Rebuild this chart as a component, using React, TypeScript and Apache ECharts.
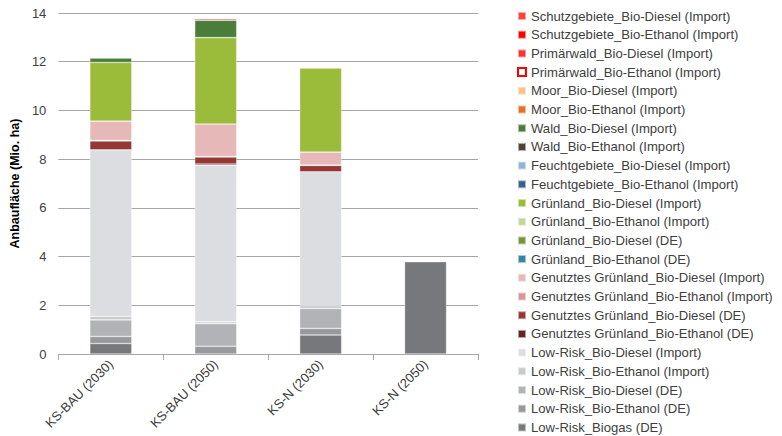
import React, { useEffect, useRef } from "react";
import * as echarts from "echarts";

const categories = ["KS-BAU (2030)", "KS-BAU (2050)", "KS-N (2030)", "KS-N (2050)"];

// Stacking order: bottom -> top
const seriesNames = [
  "Low-Risk_Biogas (DE)",
  "Low-Risk_Bio-Ethanol (DE)",
  "Low-Risk_Bio-Diesel (DE)",
  "Low-Risk_Bio-Ethanol (Import)",
  "Low-Risk_Bio-Diesel (Import)",
  "Genutztes Grünland_Bio-Ethanol (DE)",
  "Genutztes Grünland_Bio-Diesel (DE)",
  "Genutztes Grünland_Bio-Ethanol (Import)",
  "Genutztes Grünland_Bio-Diesel (Import)",
  "Grünland_Bio-Ethanol (DE)",
  "Grünland_Bio-Diesel (DE)",
  "Grünland_Bio-Ethanol (Import)",
  "Grünland_Bio-Diesel (Import)",
  "Feuchtgebiete_Bio-Ethanol (Import)",
  "Feuchtgebiete_Bio-Diesel (Import)",
  "Wald_Bio-Ethanol (Import)",
  "Wald_Bio-Diesel (Import)",
  "Moor_Bio-Ethanol (Import)",
  "Moor_Bio-Diesel (Import)",
  "Primärwald_Bio-Ethanol (Import)",
  "Primärwald_Bio-Diesel (Import)",
  "Schutzgebiete_Bio-Ethanol (Import)",
  "Schutzgebiete_Bio-Diesel (Import)",
];

const seriesColors = [
  "#77787b",
  "#98999c",
  "#b2b3b6",
  "#c8c9cc",
  "#dcdde0",
  "#632523",
  "#953735",
  "#d99694",
  "#e6b9b8",
  "#31859c",
  "#77933c",
  "#c3d69b",
  "#9bbb3b",
  "#376092",
  "#95b3d7",
  "#4e4632",
  "#4a7d3a",
  "#e86f25",
  "#f9c08f",
  "#ffffff",
  "#ff3030",
  "#ff0000",
  "#ff4040",
];

// values per series (same order as seriesNames), per category
const lowRiskBiogasDE = [0.43, 0.0, 0.78, 3.79];
const lowRiskEthanolDE = [0.29, 0.32, 0.27, 0];
const lowRiskDieselDE = [0.68, 0.92, 0.82, 0];
const lowRiskEthanolImport = [0.14, 0.08, 0.11, 0];
const lowRiskDieselImport = [6.84, 6.43, 5.5, 0];
const genGrEthanolDE = [0.0, 0.05, 0.0, 0];
const genGrDieselDE = [0.37, 0.29, 0.26, 0];
const genGrEthanolImport = [0.02, 0.02, 0.02, 0];
const genGrDieselImport = [0.79, 1.33, 0.53, 0];
const grEthanolDE = [0, 0, 0, 0];
const grDieselDE = [0, 0, 0, 0];
const grEthanolImport = [0, 0, 0, 0];
const grDieselImport = [2.41, 3.55, 3.45, 0];
const feuchtEthanol = [0, 0, 0, 0];
const feuchtDiesel = [0, 0, 0, 0];
const waldEthanol = [0, 0, 0, 0];
const waldDiesel = [0.18, 0.71, 0, 0];
const moorEthanol = [0, 0, 0, 0];
const moorDiesel = [0, 0, 0, 0];
const primEthanol = [0, 0, 0, 0];
const primDiesel = [0, 0, 0, 0];
const schutzEthanol = [0, 0, 0, 0];
const schutzDiesel = [0.02, 0.06, 0.02, 0];

const seriesValues = [
  lowRiskBiogasDE,
  lowRiskEthanolDE,
  lowRiskDieselDE,
  lowRiskEthanolImport,
  lowRiskDieselImport,
  genGrEthanolDE,
  genGrDieselDE,
  genGrEthanolImport,
  genGrDieselImport,
  grEthanolDE,
  grDieselDE,
  grEthanolImport,
  grDieselImport,
  feuchtEthanol,
  feuchtDiesel,
  waldEthanol,
  waldDiesel,
  moorEthanol,
  moorDiesel,
  primEthanol,
  primDiesel,
  schutzEthanol,
  schutzDiesel,
];

const yTicks = [0, 2, 4, 6, 8, 10, 12, 14];

const FONT = "'Liberation Sans', Arial, sans-serif";

export default function App() {
  const ref = useRef<HTMLDivElement>(null);
  useEffect(() => {
    if (!ref.current) return;
    const chart = echarts.init(ref.current, null, { renderer: "svg" });
    const series = seriesNames.map((name, i) => {
      const isPrimEth = name === "Primärwald_Bio-Ethanol (Import)";
      return {
        name,
        type: "bar",
        stack: "total",
        barWidth: "40%",
        data: seriesValues[i].map((v) => (v === 0 ? null : v)),
        itemStyle: {
          color: seriesColors[i],
          borderColor: isPrimEth ? "#ff0000" : "rgba(255,255,255,0.55)",
          borderWidth: isPrimEth ? 1 : 0.6,
        },
        emphasis: { disabled: true },
      };
    });
    chart.setOption({
      animation: false,
      backgroundColor: "#ffffff",
      textStyle: { fontFamily: FONT },
      grid: { left: 53, right: 304, top: 13, bottom: 82, containLabel: false },
      legend: {
        orient: "vertical",
        left: 517,
        top: 9,
        height: 427,
        padding: 0,
        itemWidth: 8,
        itemHeight: 8,
        itemGap: 4.7,
        icon: "rect",
        data: [...seriesNames].reverse(),
        selectedMode: false,
        textStyle: {
          fontFamily: FONT,
          fontSize: 13.1,
          color: "#404040",
          lineHeight: 14,
        },
      },
      xAxis: {
        type: "category",
        data: categories,
        axisLine: { lineStyle: { color: "#a6a6a6", width: 1 } },
        axisTick: { show: true, alignWithLabel: false, length: 6, lineStyle: { color: "#a6a6a6" } },
        axisLabel: {
          rotate: 45,
          fontSize: 13,
          color: "#404040",
          fontFamily: FONT,
          margin: 8,
        },
      },
      yAxis: {
        type: "value",
        min: 0,
        max: 14,
        interval: 2,
        name: "Anbaufläche (Mio. ha)",
        nameLocation: "middle",
        nameGap: 34,
        nameTextStyle: { fontSize: 12.5, fontWeight: "bold", color: "#000000", fontFamily: FONT },
        axisLine: { show: false },
        axisTick: { show: false },
        splitLine: { lineStyle: { color: "#a6a6a6", width: 1 } },
        axisLabel: {
          fontSize: 13,
          color: "#404040",
          fontFamily: FONT,
          margin: 12,
          formatter: (v: number) => (yTicks.includes(v) ? String(v) : ""),
        },
      },
      series,
    });
    return () => chart.dispose();
  }, []);
  return (
    <div
      ref={ref}
      style={{ position: "absolute", left: 0, top: 0, width: 782, height: 436 }}
    />
  );
}
